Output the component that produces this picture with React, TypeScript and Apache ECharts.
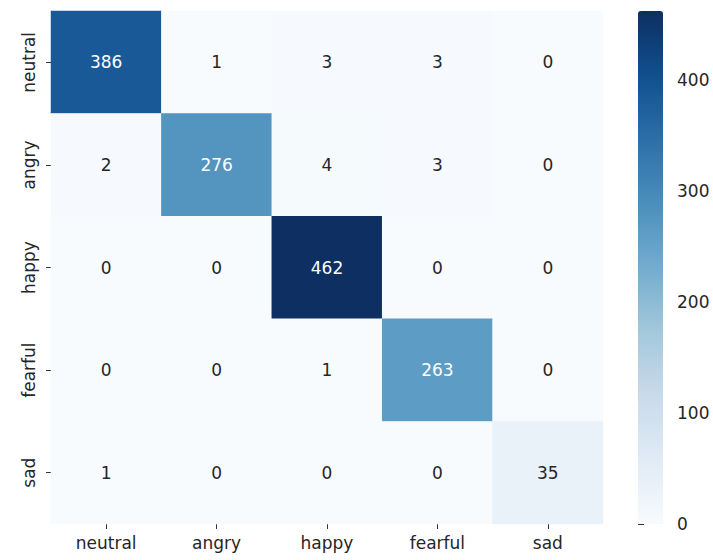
import React, { useEffect, useRef } from "react";
import * as echarts from "echarts";

// Confusion matrix: rows are true labels, columns are predicted labels
const labels = ["neutral", "angry", "happy", "fearful", "sad"];
const matrix = [
  [386, 1, 3, 3, 0],
  [2, 276, 4, 3, 0],
  [0, 0, 462, 0, 0],
  [0, 0, 1, 263, 0],
  [1, 0, 0, 0, 35],
];
const colorbarTicks = [0, 100, 200, 300, 400];

// matplotlib "Blues" colormap stops
const blues = [
  "#f7fbff", "#deebf7", "#c6dbef", "#9ecae1", "#6baed6",
  "#4292c6", "#2171b5", "#08519c", "#08306b",
];

const FONT = "DejaVu Sans";
const TEXT = "#262626";

// soften the palette a little by pulling each stop toward its own grey
function soften(hex: string, k: number): string {
  const n = parseInt(hex.slice(1), 16);
  const r = (n >> 16) & 255, g = (n >> 8) & 255, b = n & 255;
  const l = 0.299 * r + 0.587 * g + 0.114 * b;
  const mix = (c: number) => Math.round(c + (l - c) * k);
  return "#" + [mix(r), mix(g), mix(b)].map((c) => c.toString(16).padStart(2, "0")).join("");
}

export default function App() {
  const ref = useRef<HTMLDivElement>(null);

  useEffect(() => {
    if (!ref.current) return;
    const chart = echarts.init(ref.current, null, { renderer: "svg" });
    const vmax = Math.max(...matrix.flat());
    const vmin = 0;
    const palette = blues.map((c) => soften(c, 0.15));

    const data: any[] = [];
    matrix.forEach((row, r) => {
      row.forEach((v, c) => {
        data.push({
          value: [c, r, v],
          label: { color: v > (vmax + vmin) / 2 ? "#ffffff" : TEXT },
        });
      });
    });

    const gridLeft = 51, gridTop = 11, gridW = 552, gridH = 513;
    const barLeft = 638, barW = 25;

    chart.setOption({
      animation: false,
      backgroundColor: "#ffffff",
      grid: [
        { left: gridLeft, top: gridTop, width: gridW, height: gridH },
        { left: barLeft, top: gridTop, width: barW, height: gridH },
      ],
      xAxis: [
        {
          type: "category",
          data: labels,
          gridIndex: 0,
          axisLine: { show: false },
          axisTick: { show: true, length: 5, alignWithLabel: true, lineStyle: { color: "#333", width: 1 } },
          axisLabel: { fontFamily: FONT, fontSize: 17, color: TEXT, margin: 10 },
          splitLine: { show: false },
        },
        { type: "value", gridIndex: 1, show: false, min: 0, max: 1 },
      ],
      yAxis: [
        {
          type: "category",
          data: labels,
          inverse: true,
          gridIndex: 0,
          axisLine: { show: false },
          axisTick: { show: true, length: 5, alignWithLabel: true, lineStyle: { color: "#333", width: 1 } },
          axisLabel: { fontFamily: FONT, fontSize: 17, color: TEXT, rotate: 90, margin: 14 },
          splitLine: { show: false },
        },
        {
          type: "value",
          gridIndex: 1,
          position: "right",
          min: vmin,
          max: vmax,
          axisLine: { show: false },
          splitLine: { show: false },
          axisTick: {
            show: true,
            length: 6,
            customValues: colorbarTicks,
            lineStyle: { color: "#333", width: 1 },
          },
          axisLabel: {
            fontFamily: FONT,
            fontSize: 17,
            color: TEXT,
            margin: 14,
            customValues: colorbarTicks,
          },
        },
      ],
      visualMap: {
        type: "continuous",
        min: vmin,
        max: vmax,
        seriesIndex: 0,
        calculable: false,
        realtime: false,
        orient: "vertical",
        left: barLeft,
        top: gridTop,
        itemWidth: barW,
        itemHeight: gridH,
        padding: 0,
        text: ["", ""],
        showLabel: false,
        inRange: { color: palette },
      },
      series: [
        {
          type: "heatmap",
          xAxisIndex: 0,
          yAxisIndex: 0,
          data,
          label: {
            show: true,
            fontFamily: FONT,
            fontSize: 17,
            formatter: (p: any) => String(p.value[2]),
          },
          itemStyle: { borderWidth: 0 },
          emphasis: { disabled: true },
        },
      ],
    });

    return () => chart.dispose();
  }, []);

  return (
    <div
      ref={ref}
      style={{ position: "fixed", left: 0, top: 0, width: 713, height: 560, background: "#fff" }}
    />
  );
}
